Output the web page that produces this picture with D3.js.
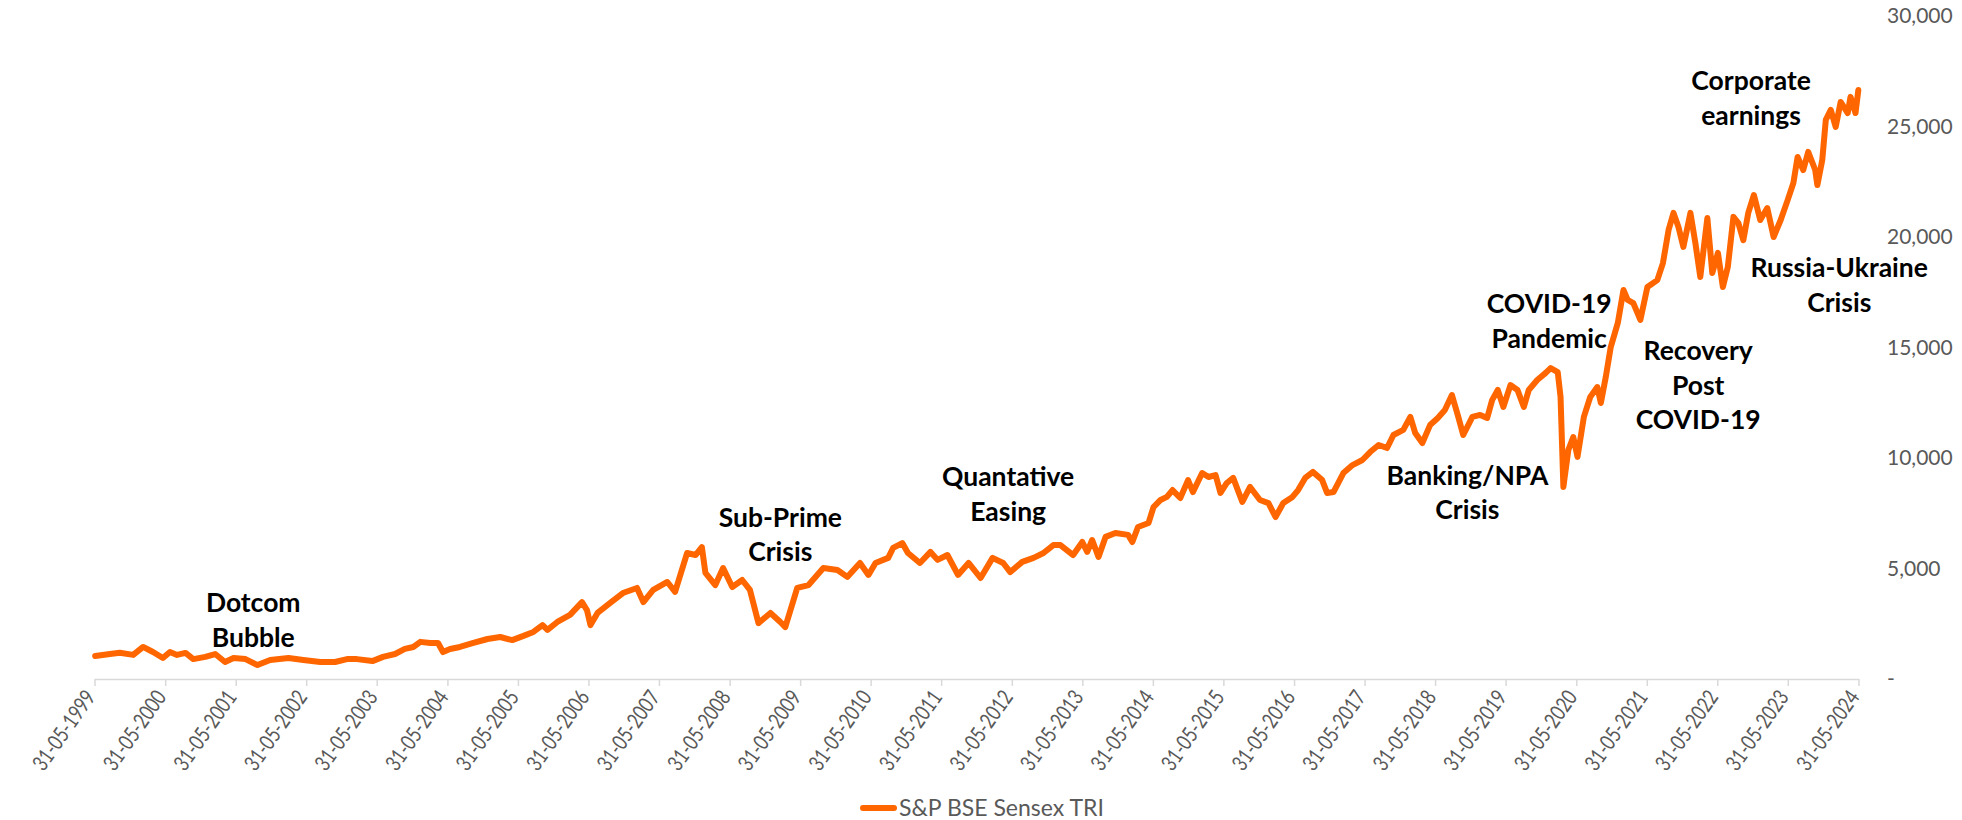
<!DOCTYPE html>
<html>
<head>
<meta charset="utf-8">
<script src="https://cdn.jsdelivr.net/npm/d3@7"></script>
<style>
    body { margin: 0; background: #ffffff; }
    svg { display: block; font-family: Lato, "Open Sans", sans-serif; }
    .axis text { fill: #595959; font-family: Lato, sans-serif; }
    .x.axis text { font-size: 22px; }
    .y.axis text { font-size: 21px; }
    .axis path, .axis line { stroke: #d9d9d9; stroke-width: 1.5; }
    .note { font-weight: bold; font-size: 26.5px; fill: #000000; text-anchor: middle; }
    .legend text { fill: #595959; font-size: 23px; }
</style>
</head>
<body>
<div id="chartArea"></div>
<script>
// S&P BSE Sensex TRI (decimal years)
const years = [
    1999.42, 1999.63, 1999.77, 1999.96, 2000.10, 2000.24, 2000.38, 2000.48, 2000.58, 2000.70,
    2000.81, 2000.98, 2001.12, 2001.26, 2001.38, 2001.55, 2001.72, 2001.90, 2002.16, 2002.37,
    2002.61, 2002.82, 2002.99, 2003.13, 2003.35, 2003.50, 2003.67, 2003.81, 2003.93, 2004.03,
    2004.17, 2004.28, 2004.35, 2004.45, 2004.59, 2004.78, 2004.98, 2005.16, 2005.33, 2005.49,
    2005.63, 2005.76, 2005.83, 2005.97, 2006.15, 2006.32, 2006.39, 2006.44, 2006.54, 2006.72,
    2006.90, 2007.10, 2007.19, 2007.33, 2007.53, 2007.64, 2007.81, 2007.93, 2008.02, 2008.07,
    2008.21, 2008.32, 2008.45, 2008.59, 2008.70, 2008.82, 2008.99, 2009.13, 2009.20, 2009.37,
    2009.53, 2009.74, 2009.94, 2010.08, 2010.26, 2010.38, 2010.48, 2010.66, 2010.73, 2010.86,
    2010.94, 2011.11, 2011.26, 2011.36, 2011.50, 2011.65, 2011.80, 2011.97, 2012.14, 2012.29,
    2012.39, 2012.56, 2012.72, 2012.86, 2013.00, 2013.10, 2013.28, 2013.41, 2013.48, 2013.55,
    2013.64, 2013.74, 2013.88, 2014.06, 2014.12, 2014.20, 2014.35, 2014.42, 2014.52, 2014.61,
    2014.69, 2014.80, 2014.91, 2014.98, 2015.11, 2015.20, 2015.30, 2015.37, 2015.46, 2015.55,
    2015.68, 2015.79, 2015.93, 2016.05, 2016.15, 2016.26, 2016.39, 2016.47, 2016.57, 2016.68,
    2016.81, 2016.88, 2016.97, 2017.11, 2017.24, 2017.38, 2017.49, 2017.61, 2017.73, 2017.82,
    2017.96, 2018.06, 2018.13, 2018.23, 2018.34, 2018.45, 2018.55, 2018.65, 2018.74, 2018.81,
    2018.94, 2019.05, 2019.15, 2019.22, 2019.30, 2019.38, 2019.48, 2019.58, 2019.67, 2019.74,
    2019.86, 2019.98, 2020.05, 2020.15, 2020.19, 2020.23, 2020.30, 2020.37, 2020.43, 2020.52,
    2020.61, 2020.71, 2020.76, 2020.83, 2020.90, 2021.00, 2021.08, 2021.14, 2021.22, 2021.32,
    2021.42, 2021.56, 2021.64, 2021.72, 2021.79, 2021.86, 2021.93, 2022.03, 2022.10, 2022.17,
    2022.27, 2022.34, 2022.42, 2022.49, 2022.56, 2022.64, 2022.71, 2022.78, 2022.85, 2022.93,
    2023.02, 2023.12, 2023.21, 2023.31, 2023.41, 2023.49, 2023.55, 2023.63, 2023.70, 2023.80,
    2023.83, 2023.90, 2023.95, 2024.02, 2024.09, 2024.16, 2024.26, 2024.30, 2024.37, 2024.41
];

const sensexTri = [
    1040, 1130, 1190, 1090, 1450, 1220, 950, 1220, 1090, 1180,
    900, 1000, 1130, 770, 950, 900, 630, 860, 950, 860,
    770, 770, 900, 900, 810, 1000, 1130, 1360, 1450, 1680,
    1630, 1630, 1220, 1360, 1450, 1630, 1810, 1900, 1760, 1950,
    2130, 2440, 2220, 2580, 2900, 3480, 3120, 2440, 2990, 3440,
    3890, 4120, 3480, 4030, 4390, 3940, 5700, 5610, 5970, 4800,
    4250, 5020, 4160, 4480, 4030, 2530, 2990, 2580, 2350, 4120,
    4250, 5020, 4930, 4620, 5250, 4710, 5250, 5480, 5930, 6150,
    5700, 5250, 5750, 5390, 5610, 4710, 5250, 4570, 5480, 5250,
    4840, 5300, 5480, 5700, 6060, 6060, 5610, 6200, 5750, 6290,
    5520, 6430, 6610, 6520, 6200, 6880, 7060, 7780, 8100, 8240,
    8550, 8190, 9000, 8460, 9320, 9140, 9230, 8420, 8870, 9100,
    8010, 8690, 8100, 7960, 7330, 7960, 8240, 8550, 9100, 9370,
    9000, 8420, 8460, 9320, 9680, 9910, 10270, 10590, 10450, 11040,
    11270, 11860, 11130, 10680, 11490, 11810, 12170, 12850, 11860, 11040,
    11860, 11950, 11810, 12620, 13080, 12310, 13300, 13080, 12310, 13080,
    13530, 13850, 14070, 13890, 12760, 8690, 10360, 10950, 10050, 11860,
    12760, 13210, 12490, 13670, 15020, 16110, 17600, 17150, 17010, 16250,
    17740, 18050, 18820, 20320, 21090, 20450, 19550, 21090, 19730, 18190,
    20860, 18370, 19280, 17740, 18640, 20910, 20630, 19860, 21090, 21900,
    20770, 21310, 20000, 20770, 21680, 22440, 23620, 23030, 23850, 23030,
    22350, 23490, 25300, 25750, 24980, 26110, 25610, 26340, 25610, 26650
];

const tickYears = d3.range(1999, 2025);
const yTicks = [0, 5000, 10000, 15000, 20000, 25000, 30000];
const seriesName = "S&P BSE Sensex TRI";

// event labels, anchored in chart units (year, index value of first line)
const noteLines = [
    ["Dotcom", "Bubble"],
    ["Sub-Prime", "Crisis"],
    ["Quantative", "Easing"],
    ["Banking/NPA", "Crisis"],
    ["COVID-19", "Pandemic"],
    ["Recovery", "Post", "COVID-19"],
    ["Russia-Ukraine", "Crisis"],
    ["Corporate", "earnings"]
];
const noteYears = [2001.66, 2009.13, 2012.36, 2018.87, 2020.03, 2022.14, 2024.14, 2022.89];
const noteValues = [3030, 6880, 8730, 8780, 16560, 14430, 18190, 26650];

function toDate(t) {
    let y = Math.floor(t);
    let a = new Date(y, 0, 1), b = new Date(y + 1, 0, 1);
    return new Date(+a + (t - y) * (b - a));
}

let data = years.map((t, i) => ({ date: toDate(t), value: sensexTri[i] }));

let svg = d3.select("#chartArea")
    .append("svg")
        .attr("width", 1962)
        .attr("height", 820);

let xScale = d3.scaleTime()
    .domain([new Date(1999, 4, 31), new Date(2024, 4, 31)])
    .range([94.5, 1858.5]);

let yScale = d3.scaleLinear()
    .domain([0, 30000])
    .range([679, 16]);

// x axis
let xAxis = svg.append("g")
    .attr("class", "x axis")
    .attr("transform", "translate(0, 679)")
    .call(
        d3.axisBottom(xScale)
            .tickValues(tickYears.map(y => new Date(y, 4, 31)))
            .tickSize(7)
            .tickSizeOuter(0)
            .tickFormat(d3.timeFormat("%d-%m-%Y"))
    );

// narrower glyphs, closer to the original Calibri labels
xAxis.selectAll("text")
    .attr("text-anchor", "end")
    .attr("dy", null)
    .attr("y", null)
    .attr("textLength", 92)
    .attr("lengthAdjust", "spacingAndGlyphs")
    .attr("transform", "translate(1.5, 18) rotate(-55)");

// y axis on the right, no line
let yAxis = svg.append("g")
    .attr("class", "y axis")
    .attr("transform", "translate(1858, 0)")
    .call(
        d3.axisRight(yScale)
            .tickValues(yTicks)
            .tickSize(0)
            .tickPadding(29)
            .tickFormat(d => d === 0 ? "-" : d3.format(",")(d))
    );
yAxis.select(".domain").remove();

// the series
let line = d3.line()
    .x(d => xScale(d.date))
    .y(d => yScale(d.value));

svg.append("path")
    .attr("d", line(data))
    .attr("fill", "none")
    .attr("stroke", "#ff6600")
    .attr("stroke-width", 6)
    .attr("stroke-linejoin", "round")
    .attr("stroke-linecap", "round");

// annotations
noteLines.forEach((lines, i) => {
    let t = svg.append("text")
        .attr("class", "note")
        .attr("x", xScale(toDate(noteYears[i])))
        .attr("y", yScale(noteValues[i]));
    lines.forEach((s, j) => {
        t.append("tspan")
            .attr("x", xScale(toDate(noteYears[i])))
            .attr("dy", j === 0 ? 0 : 34.5)
            .text(s);
    });
});

// legend
let legend = svg.append("g").attr("class", "legend");
legend.append("line")
    .attr("x1", 863).attr("x2", 894)
    .attr("y1", 808).attr("y2", 808)
    .attr("stroke", "#ff6600")
    .attr("stroke-width", 6)
    .attr("stroke-linecap", "round");
legend.append("text")
    .attr("x", 899)
    .attr("y", 816)
    .text(seriesName);
</script>
</body>
</html>
